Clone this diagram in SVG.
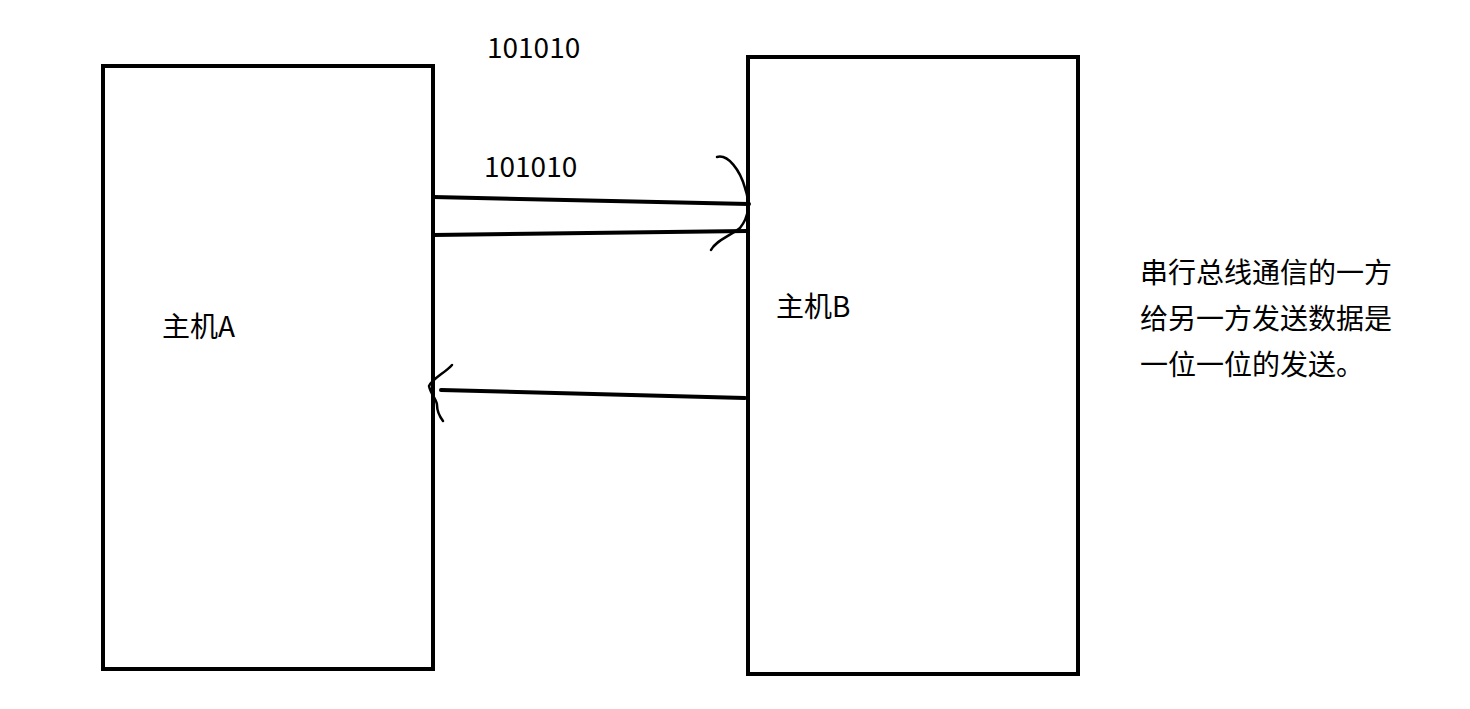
<svg xmlns="http://www.w3.org/2000/svg" width="1470" height="709" viewBox="0 0 1470 709">
<style>
.box{fill:none;stroke:#000;stroke-width:4}
.ln{fill:none;stroke:#000;stroke-width:4;stroke-linecap:round}
.hd{fill:none;stroke:#000;stroke-width:2.5;stroke-linecap:round;stroke-linejoin:round}
text{font-family:"Noto Sans CJK SC","Noto Sans",sans-serif;font-size:28px;fill:#000}
</style>
<rect width="1470" height="709" fill="#fff"/>
<g id="hostA">
<rect class="box" x="103" y="66" width="330" height="603"/>
<text x="162" y="337">主机A</text>
</g>
<g id="hostB">
<rect class="box" x="748" y="57" width="330" height="617"/>
<text x="776" y="317">主机B</text>
</g>
<g id="connectors">
<path class="ln" d="M433,197 L749,204"/>
<path class="ln" d="M433,235 L747,231"/>
<path class="hd" d="M717,157 C728,154 740,170 745,188 C751,205 748,218 740,228 C730,236 716,240 711,250"/>
<path class="ln" d="M441,390 L745,398"/>
<path class="hd" d="M452,365 C445,373 433,378 429,386 C431,395 437,400 437,405 C437,411 440,417 443,421"/>
</g>
<g id="labels">
<text x="487" y="58">101010</text>
<text x="484" y="177">101010</text>
<text x="1140" y="283">串行总线通信的一方</text>
<text x="1140" y="329">给另一方发送数据是</text>
<text x="1140" y="375">一位一位的发送。</text>
</g>
</svg>
